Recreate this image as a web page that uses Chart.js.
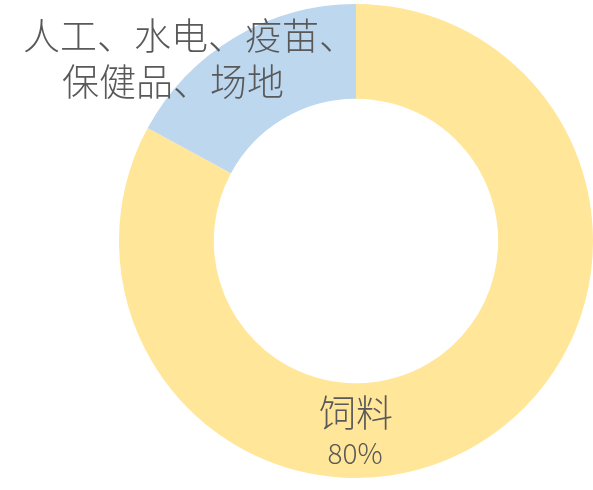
<!DOCTYPE html>
<html>
<head>
<meta charset="utf-8">
<script src="https://cdn.jsdelivr.net/npm/chart.js@4"></script>
<style>
    body { margin: 0; background: #fff; width: 593px; height: 490px; overflow: hidden; position: relative; }
    #wrap { position: absolute; left: 119px; top: 4px; width: 474px; height: 474px; }
    .lbl { position: absolute; font-family: "Noto Sans CJK SC", "Noto Sans", sans-serif; font-weight: 300;
           color: #595959; line-height: 1; white-space: nowrap; }
</style>
</head>
<body>
<div id="wrap"><canvas id="pieChart"></canvas></div>
<div class="lbl" id="l1" style="left:23px; top:16px; font-size:37px;"></div>
<div class="lbl" id="l2" style="left:62px; top:62px; font-size:37px;"></div>
<div class="lbl" id="l3" style="left:256px; width:200px; text-align:center; top:393px; font-size:37px;"></div>
<div class="lbl" id="l4" style="left:255px; width:200px; text-align:center; top:438px; font-size:28px;"></div>
<script>
// Données du graphique
const categories = ['饲料', '人工、水电、疫苗、保健品、场地'];
const values = [80, 16.5];
const colors = ['#FFE699', '#BDD7EE'];

new Chart(document.getElementById('pieChart').getContext('2d'), {
    type: 'doughnut',
    data: {
        labels: categories,
        datasets: [{
            data: values,
            backgroundColor: colors,
            borderWidth: 0
        }]
    },
    options: {
        responsive: true,
        maintainAspectRatio: false,
        animation: false,
        cutout: '60%',
        layout: { padding: 0 },
        plugins: {
            legend: { display: false },
            tooltip: { enabled: false }
        }
    }
});

// Étiquettes
document.getElementById('l1').textContent = categories[1].substring(0, 9);
document.getElementById('l2').textContent = categories[1].substring(9);
document.getElementById('l3').textContent = categories[0];
document.getElementById('l4').textContent = values[0] + '%';
</script>
</body>
</html>
